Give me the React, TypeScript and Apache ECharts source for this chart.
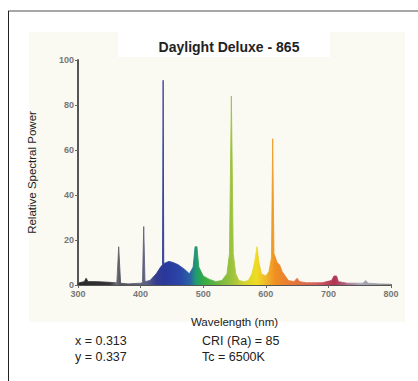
import React, { useEffect, useRef } from "react";
import * as echarts from "echarts";

const title = "Daylight Deluxe - 865";
const xName = "Wavelength (nm)";
const yName = "Relative Spectral Power";
const infoLeft = ["x = 0.313", "y = 0.337"];
const infoRight = ["CRI (Ra) = 85", "Tc = 6500K"];

const wavelengths = [
  300, 302, 310, 313, 316, 330, 350, 362, 365, 368, 380, 400, 403, 405, 407,
  415, 425, 432, 435, 436, 437, 445, 452, 460, 470, 478, 484, 487, 490, 493,
  500, 510, 520, 530, 538, 542, 545, 548, 552, 557, 565, 572, 578, 582, 586,
  589, 593, 600, 605, 609, 611, 613, 618, 622, 626, 631, 636, 645, 650, 654,
  665, 690, 705, 709, 713, 716, 730, 755, 760, 763, 780, 800,
];
const power = [
  0, 1, 1.5, 3, 1.5, 1.5, 1.2, 1, 17, 0.8, 0.5, 0.8, 1, 26, 1.5,
  2, 5, 8, 9, 91, 9.5, 10.5, 10, 9, 7, 5, 8, 17, 17, 8,
  4, 2.5, 1.5, 2, 5, 14, 84, 14, 5, 2, 1.5, 2, 5, 10, 17,
  10, 5, 4, 6, 12, 65, 14, 10, 9, 6, 4, 2, 1.5, 3, 1.5,
  1, 1, 2, 4, 4, 1.5, 0.8, 0.8, 2, 0.8, 0.5, 0.3,
];

const xTicks = [300, 400, 500, 600, 700, 800];
const yTicks = [0, 20, 40, 60, 80, 100];

const spectrumStops: [number, string][] = [
  [300, "#2a2a2a"],
  [350, "#333338"],
  [362, "#6e6e7a"],
  [368, "#505058"],
  [400, "#60627a"],
  [410, "#5a5e86"],
  [425, "#343c90"],
  [440, "#2a389c"],
  [465, "#2a48a8"],
  [480, "#2a66a2"],
  [488, "#1e9a72"],
  [500, "#34aa44"],
  [530, "#7cba40"],
  [548, "#a2c43c"],
  [565, "#d2d232"],
  [585, "#eedc22"],
  [600, "#f0b82a"],
  [615, "#ef8f22"],
  [640, "#e87a34"],
  [680, "#d46060"],
  [710, "#b03456"],
  [750, "#a8a8b8"],
  [800, "#909090"],
];

const FONT = "Liberation Sans, Arial, sans-serif";

export default function App() {
  const ref = useRef<HTMLDivElement>(null);
  useEffect(() => {
    document.body.style.margin = "0";
    if (!ref.current) return;
    const chart = echarts.init(ref.current, null, { renderer: "svg" });
    const xMin = xTicks[0];
    const xMax = xTicks[xTicks.length - 1];
    const grad = new echarts.graphic.LinearGradient(
      0,
      0,
      1,
      0,
      spectrumStops.map(([w, c]) => ({ offset: (w - xMin) / (xMax - xMin), color: c }))
    );
    const data = wavelengths.map((w, i) => [w, power[i]]);
    chart.setOption({
      animation: false,
      backgroundColor: "#ffffff",
      textStyle: { fontFamily: FONT },
      title: {
        text: title,
        left: 224,
        textAlign: "center",
        top: 35,
        textStyle: { fontSize: 14, fontWeight: "bold", color: "#222", fontFamily: FONT },
      },
      graphic: [
        { type: "rect", shape: { x: 29, y: 32, width: 376, height: 290 }, style: { fill: "#fafaf2" }, z: -10 },
        { type: "rect", shape: { x: 118, y: 31, width: 212, height: 26 }, style: { fill: "#ffffff" }, z: -9 },
        { type: "line", shape: { x1: 8, y1: 11, x2: 418, y2: 11 }, style: { stroke: "#8a8a8a", lineWidth: 1.5 } },
        { type: "line", shape: { x1: 8.5, y1: 11, x2: 8.5, y2: 381 }, style: { stroke: "#222", lineWidth: 1 } },
        { type: "text", x: 75, y: 334, style: { text: infoLeft[0], fontSize: 12.5, fill: "#222", fontFamily: FONT } },
        { type: "text", x: 75, y: 350, style: { text: infoLeft[1], fontSize: 12.5, fill: "#222", fontFamily: FONT } },
        { type: "text", x: 202, y: 334, style: { text: infoRight[0], fontSize: 12.5, fill: "#222", fontFamily: FONT } },
        { type: "text", x: 202, y: 350, style: { text: infoRight[1], fontSize: 12.5, fill: "#222", fontFamily: FONT } },
      ],
      grid: { left: 78, right: 27, top: 60, bottom: 96 },
      xAxis: {
        type: "value",
        min: xMin,
        max: xMax,
        interval: 100,
        name: xName,
        nameLocation: "middle",
        nameGap: 31,
        nameTextStyle: { fontSize: 11.5, color: "#222", fontFamily: FONT },
        axisLine: { lineStyle: { color: "#555", width: 2 } },
        axisTick: { length: 3, lineStyle: { color: "#666" } },
        axisLabel: { fontSize: 9, color: "#777", fontWeight: "bold", margin: 4 },
        splitLine: { show: false },
      },
      yAxis: {
        type: "value",
        min: yTicks[0],
        max: yTicks[yTicks.length - 1],
        interval: 20,
        name: yName,
        nameLocation: "middle",
        nameGap: 40,
        nameTextStyle: { fontSize: 11.5, color: "#222", fontFamily: FONT },
        axisLine: { show: true, lineStyle: { color: "#555", width: 2 } },
        axisTick: { show: true, length: 3, lineStyle: { color: "#666" } },
        axisLabel: { fontSize: 9, color: "#777", fontWeight: "bold", margin: 4 },
        splitLine: { show: false },
      },
      series: [
        {
          type: "line",
          data,
          symbol: "none",
          smooth: false,
          lineStyle: { width: 1, color: grad, opacity: 0.85 },
          areaStyle: { color: grad, opacity: 1 },
          z: 3,
        },
      ],
    });
    return () => chart.dispose();
  }, []);
  return <div ref={ref} style={{ width: 418, height: 381 }} />;
}
